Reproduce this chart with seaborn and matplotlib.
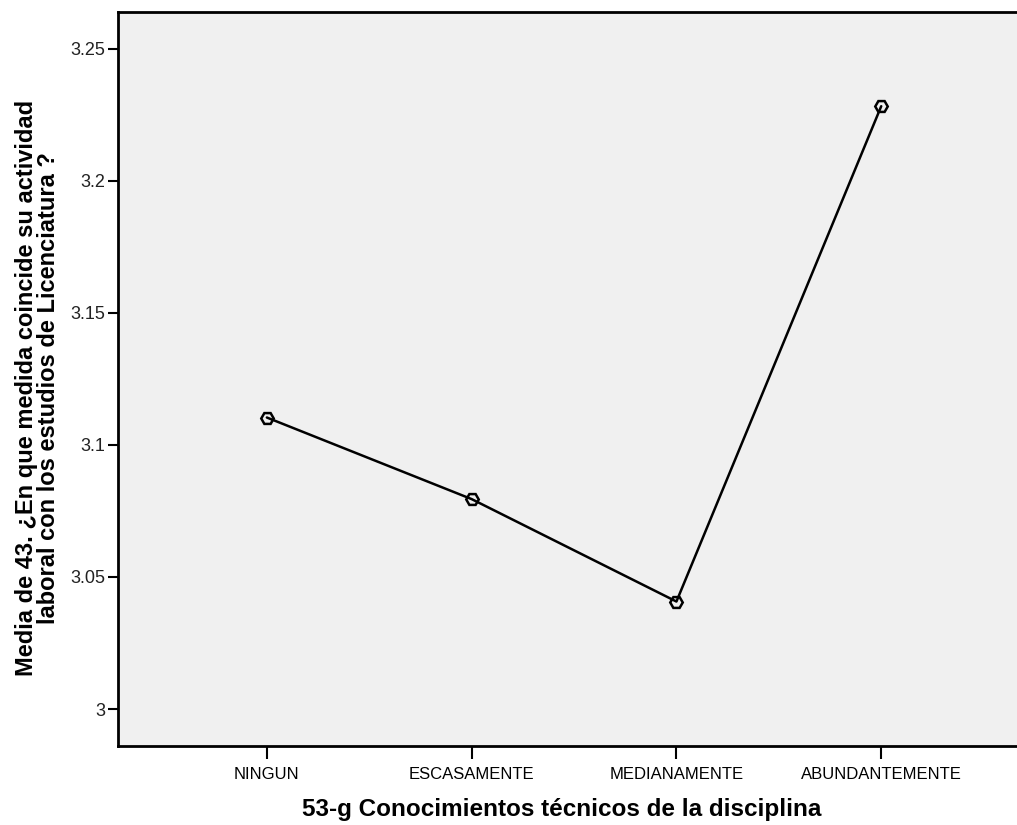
import matplotlib
matplotlib.use("Agg")
import matplotlib.pyplot as plt
import seaborn as sns
import pandas as pd

categories = ["NINGUN", "ESCASAMENTE", "MEDIANAMENTE", "ABUNDANTEMENTE"]
means = [3.1104, 3.0795, 3.0407, 3.2283]
y_ticks = [3, 3.05, 3.1, 3.15, 3.2, 3.25]
y_tick_labels = ["3", "3.05", "3.1", "3.15", "3.2", "3.25"]

df = pd.DataFrame({"cat": categories, "mean": means})

sns.set_style("white")
plt.rcParams["font.family"] = ["Liberation Sans", "DejaVu Sans"]

fig = plt.figure(figsize=(10.17, 8.25), dpi=100)
ax = fig.add_axes([0.116, 0.0958, 0.884, 0.8897])
ax.set_facecolor("#f0f0f0")

sns.lineplot(data=df, x="cat", y="mean", sort=False, color="black",
             linewidth=1.8, marker="H", markersize=9,
             markerfacecolor="none", markeredgecolor="black",
             markeredgewidth=1.8, ax=ax)

ax.set_xlim(-0.727, 3.663)
ax.set_ylim(2.986, 3.264)
ax.set_yticks(y_ticks)
ax.set_yticklabels(y_tick_labels)

for side in ["left", "bottom", "top"]:
    ax.spines[side].set_visible(True)
    ax.spines[side].set_color("black")
    ax.spines[side].set_linewidth(2)
ax.spines["right"].set_visible(False)

ax.tick_params(axis="y", direction="out", length=7, width=1.5, colors="black",
               labelsize=13, labelcolor="#222222", left=True, pad=2)
ax.tick_params(axis="x", direction="out", length=9, width=1.5, colors="black",
               labelsize=12, labelcolor="black", bottom=True, pad=6)

ax.set_xlabel("53-g Conocimientos técnicos de la disciplina",
              fontsize=17.5, fontweight="bold", color="black")
ax.set_ylabel("Media de 43. ¿En que medida coincide su actividad\n"
              "laboral con los estudios de Licenciatura ?",
              fontsize=17, fontweight="bold", color="black",
              linespacing=0.95)
ax.xaxis.set_label_coords(0.494, -0.071)
ax.yaxis.set_label_coords(-0.064, 0.488)

fig.savefig("out.png", dpi=100)
